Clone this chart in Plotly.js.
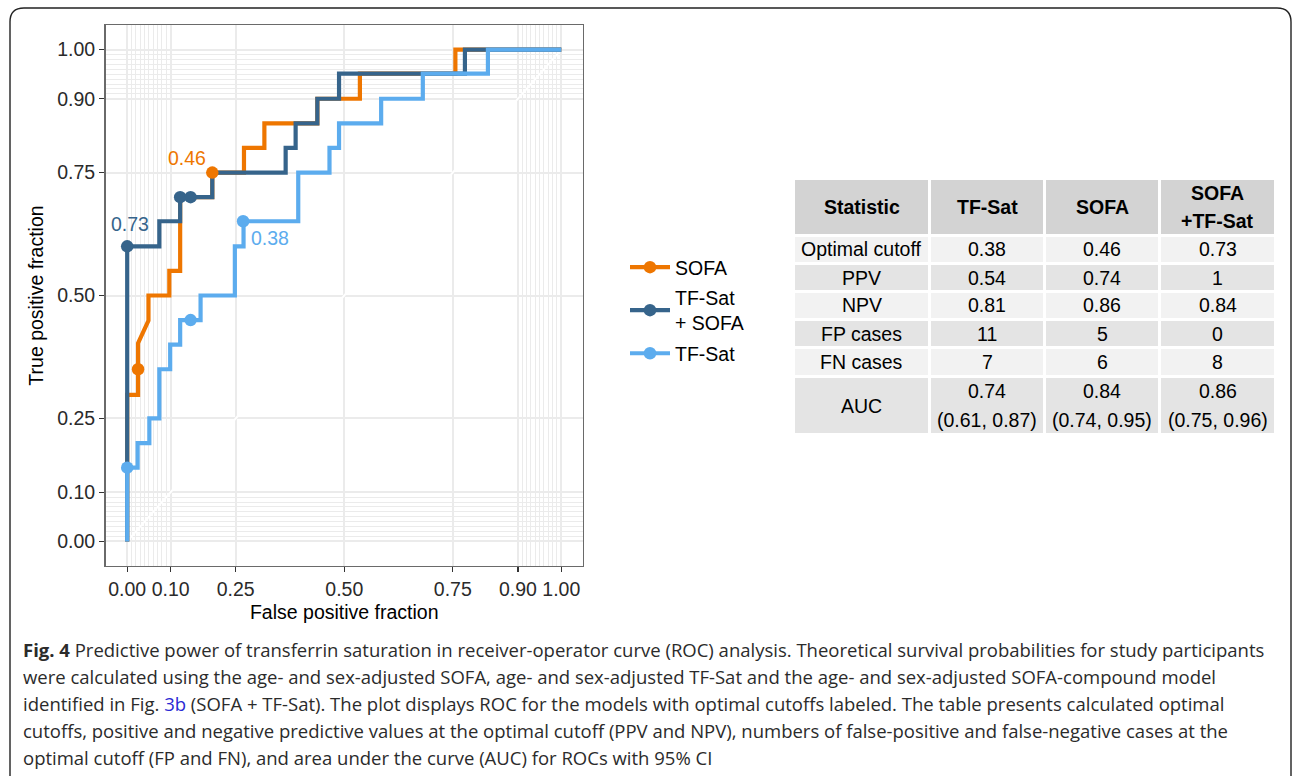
<!DOCTYPE html>
<html>
<head>
<meta charset="utf-8">
<script src="https://cdn.plot.ly/plotly-3.0.1.min.js"></script>
<style>
html,body{margin:0;padding:0;background:#fff;}
#chart{width:1292px;height:776px;}
</style>
</head>
<body>
<div id="chart"></div>
<script>
// ---------- DATA ----------
// ROC step curves: false positive fraction (x) and true positive fraction (y)
const sofaFPF = [0, 0, 0.025, 0.025, 0.049, 0.049, 0.097, 0.097, 0.122, 0.122, 0.196, 0.196, 0.269, 0.269, 0.316, 0.316, 0.438, 0.438, 0.536, 0.536, 0.756, 0.756, 1.0];
const sofaTPF = [0, 0.298, 0.298, 0.403, 0.449, 0.50, 0.50, 0.55, 0.55, 0.70, 0.70, 0.75, 0.75, 0.80, 0.80, 0.85, 0.85, 0.90, 0.90, 0.951, 0.951, 1.0, 1.0];

const comboFPF = [0, 0, 0.074, 0.074, 0.122, 0.122, 0.196, 0.196, 0.365, 0.365, 0.388, 0.388, 0.438, 0.438, 0.488, 0.488, 0.778, 0.778, 1.0];
const comboTPF = [0, 0.60, 0.60, 0.651, 0.651, 0.70, 0.70, 0.75, 0.75, 0.80, 0.80, 0.85, 0.85, 0.90, 0.90, 0.951, 0.951, 1.0, 1.0];

const tfsatFPF = [0, 0, 0.024, 0.024, 0.051, 0.051, 0.074, 0.074, 0.099, 0.099, 0.122, 0.122, 0.169, 0.169, 0.248, 0.248, 0.268, 0.268, 0.394, 0.394, 0.466, 0.466, 0.488, 0.488, 0.585, 0.585, 0.681, 0.681, 0.831, 0.831, 1.0];
const tfsatTPF = [0, 0.15, 0.15, 0.20, 0.20, 0.25, 0.25, 0.35, 0.35, 0.40, 0.40, 0.45, 0.45, 0.50, 0.50, 0.60, 0.60, 0.651, 0.651, 0.75, 0.75, 0.80, 0.80, 0.85, 0.85, 0.90, 0.90, 0.951, 0.951, 1.0, 1.0];

// cutoff points drawn on each curve
const sofaPtX = [0.025, 0.196];
const sofaPtY = [0.35, 0.75];
const comboPtX = [0, 0.122, 0.146];
const comboPtY = [0.60, 0.70, 0.70];
const tfsatPtX = [0, 0.146, 0.267];
const tfsatPtY = [0.15, 0.45, 0.651];

// optimal cutoff labels and the point each belongs to
const sofaCutLabel = "0.46", sofaCutIdx = 1;
const comboCutLabel = "0.73", comboCutIdx = 0;
const tfsatCutLabel = "0.38", tfsatCutIdx = 2;

// series names
const seriesNames = ["SOFA", "TF-Sat<br>+ SOFA", "TF-Sat"];

// axis breaks
const axisBreaks = [0, 0.1, 0.25, 0.5, 0.75, 0.9, 1];

// table
const tableHeader = ["Statistic", "TF-Sat", "SOFA", "SOFA<br>+TF-Sat"];
const statNames = ["Optimal cutoff", "PPV", "NPV", "FP cases", "FN cases", "AUC"];
const tfsatStats = ["0.38", "0.54", "0.81", "11", "7"];
const sofaStats = ["0.46", "0.74", "0.86", "5", "6"];
const comboStats = ["0.73", "1", "0.84", "0", "8"];
const aucValues = ["0.74", "0.84", "0.86"];
const aucCI = ["(0.61, 0.87)", "(0.74, 0.95)", "(0.75, 0.96)"];

// caption lines
const captionLines = [
  "<b>Fig. 4</b> Predictive power of transferrin saturation in receiver-operator curve (ROC) analysis. Theoretical survival probabilities for study participants",
  "were calculated using the age- and sex-adjusted SOFA, age- and sex-adjusted TF-Sat and the age- and sex-adjusted SOFA-compound model",
  "identified in Fig. <span style=\"color:#2a2ad4\">3b</span> (SOFA + TF-Sat). The plot displays ROC for the models with optimal cutoffs labeled. The table presents calculated optimal",
  "cutoffs, positive and negative predictive values at the optimal cutoff (PPV and NPV), numbers of false-positive and false-negative cases at the",
  "optimal cutoff (FP and FN), and area under the curve (AUC) for ROCs with 95% CI"
];

// ---------- STYLE ----------
const W = 1292, H = 776;
const colSOFA = "#EE7600", colCombo = "#36648B", colTF = "#5CACEE";
const FONT = "Liberation Sans";
const fs = 19.5;

function px(x) { return x / W; }
function py(y) { return 1 - y / H; }

const minorVals = [];
for (let i = 1; i < 10; i++) { minorVals.push(i / 100); minorVals.push(0.9 + i / 100); }

const traces = [];
// reference diagonal
traces.push({x: [0, 1], y: [0, 1], mode: "lines", line: {color: "#ffffff", width: 2}, showlegend: false, hoverinfo: "skip"});

const series = [
  {x: sofaFPF, y: sofaTPF, px: sofaPtX, py: sofaPtY, c: colSOFA, name: seriesNames[0]},
  {x: comboFPF, y: comboTPF, px: comboPtX, py: comboPtY, c: colCombo, name: seriesNames[1]},
  {x: tfsatFPF, y: tfsatTPF, px: tfsatPtX, py: tfsatPtY, c: colTF, name: seriesNames[2]}
];
series.forEach(s => {
  traces.push({x: s.x, y: s.y, mode: "lines", line: {color: s.c, width: 4.2, shape: "linear"}, showlegend: false, hoverinfo: "skip"});
});
series.forEach(s => {
  traces.push({x: s.px, y: s.py, mode: "markers", marker: {color: s.c, size: 12.5}, showlegend: false, hoverinfo: "skip"});
});
// legend entries
series.forEach((s, i) => {
  traces.push({x: [null], y: [null], mode: "lines+markers", name: s.name, legendgroup: "g" + i,
    line: {color: s.c, width: 4.2}, marker: {color: s.c, size: 12.5}});
});

// annotations
const annotations = [];
annotations.push({x: comboPtX[comboCutIdx], y: comboPtY[comboCutIdx], xref: "x", yref: "y", text: comboCutLabel, showarrow: false,
  xshift: 3, yshift: 22, font: {family: FONT, size: fs, color: colCombo}});
annotations.push({x: sofaPtX[sofaCutIdx], y: sofaPtY[sofaCutIdx], xref: "x", yref: "y", text: sofaCutLabel, showarrow: false,
  xshift: -25, yshift: 15, font: {family: FONT, size: fs, color: colSOFA}});
annotations.push({x: tfsatPtX[tfsatCutIdx], y: tfsatPtY[tfsatCutIdx], xref: "x", yref: "y", text: tfsatCutLabel, showarrow: false,
  xshift: 27, yshift: -17, font: {family: FONT, size: fs, color: colTF}});

captionLines.forEach((t, i) => {
  annotations.push({x: px(21), y: py(649 + i * 27.2), xref: "paper", yref: "paper", xanchor: "left", yanchor: "middle",
    text: t, showarrow: false, align: "left", font: {family: "Open Sans", size: 18.5, color: "#2b2b2b"}});
});

// ---------- TABLE (grid of cells built from the arrays) ----------
const shapes = [];
const tblX0 = 795, tblY0 = 180, gap = 3, lineStep = 28.5;
const colWidths = [133, 112, 112, 113];
const rowHeights = [54, 25, 25, 25, 25, 26, 55];
const tableRows = [tableHeader];
statNames.forEach((n, i) => {
  if (i < tfsatStats.length) tableRows.push([n, tfsatStats[i], sofaStats[i], comboStats[i]]);
  else tableRows.push([n, aucValues[0] + "<br>" + aucCI[0], aucValues[1] + "<br>" + aucCI[1], aucValues[2] + "<br>" + aucCI[2]]);
});
let yCur = tblY0;
tableRows.forEach((row, r) => {
  const h = rowHeights[r];
  const fill = r === 0 ? "#D3D3D3" : (r % 2 === 1 ? "#F2F2F2" : "#E4E4E4");
  let xCur = tblX0;
  row.forEach((txt, c) => {
    const w = colWidths[c];
    shapes.push({type: "rect", xref: "paper", yref: "paper", x0: px(xCur), x1: px(xCur + w), y0: py(yCur + h), y1: py(yCur),
      fillcolor: fill, line: {width: 0}, layer: "below"});
    const lines = txt.split("<br>");
    const cy = yCur + h / 2;
    lines.forEach((ln, k) => {
      const ly = cy + (k - (lines.length - 1) / 2) * lineStep;
      annotations.push({x: px(xCur + w / 2), y: py(ly), xref: "paper", yref: "paper", xanchor: "center", yanchor: "middle",
        text: r === 0 ? "<b>" + ln + "</b>" : ln, showarrow: false,
        font: {family: FONT, size: fs, color: "#000"}});
    });
    xCur += w + gap;
  });
  yCur += h + gap;
});

// outer frame (rounded top)
const rr = 14, L = 10, T = 8, R = 1291;
const framePath = `M ${px(L)},${py(H + 5)} L ${px(L)},${py(T + rr)} Q ${px(L)},${py(T)} ${px(L + rr)},${py(T)} L ${px(R - rr)},${py(T)} Q ${px(R)},${py(T)} ${px(R)},${py(T + rr)} L ${px(R)},${py(H + 5)}`;
shapes.push({type: "path", xref: "paper", yref: "paper", path: framePath, line: {color: "#222", width: 1.4}, layer: "above"});

const axisCommon = {
  range: [-0.05, 1.05],
  tickvals: axisBreaks,
  tickformat: ".2f",
  ticks: "outside",
  ticklen: 5,
  tickwidth: 1.3,
  tickcolor: "#333",
  tickfont: {family: FONT, size: fs, color: "#2a2a2a"},
  showline: true,
  mirror: true,
  linecolor: "#6a6a6a",
  linewidth: 1.4,
  showgrid: true,
  gridcolor: "#EBEBEB",
  gridwidth: 2,
  zeroline: false,
  fixedrange: true,
  minor: {tickvals: minorVals, showgrid: true, gridcolor: "#EBEBEB", gridwidth: 1, ticks: ""}
};

const layout = {
  width: W, height: H,
  margin: {l: 0, r: 0, t: 0, b: 0},
  paper_bgcolor: "#ffffff",
  plot_bgcolor: "#ffffff",
  showlegend: true,
  legend: {x: px(625), y: py(310.5), xanchor: "left", yanchor: "middle", font: {family: FONT, size: fs, color: "#000"},
    bgcolor: "rgba(0,0,0,0)", tracegroupgap: 2, itemwidth: 40},
  xaxis: Object.assign({}, axisCommon, {
    domain: [px(105.5), px(583)], anchor: "y",
    title: {text: "False positive fraction", font: {family: FONT, size: fs, color: "#000"}, standoff: 6}
  }),
  yaxis: Object.assign({}, axisCommon, {
    domain: [py(566), py(25)], anchor: "x",
    title: {text: "True positive fraction", font: {family: FONT, size: fs, color: "#000"}, standoff: 8}
  }),
  annotations: annotations,
  shapes: shapes
};

Plotly.newPlot("chart", traces, layout, {displayModeBar: false, staticPlot: true});
</script>
</body>
</html>
